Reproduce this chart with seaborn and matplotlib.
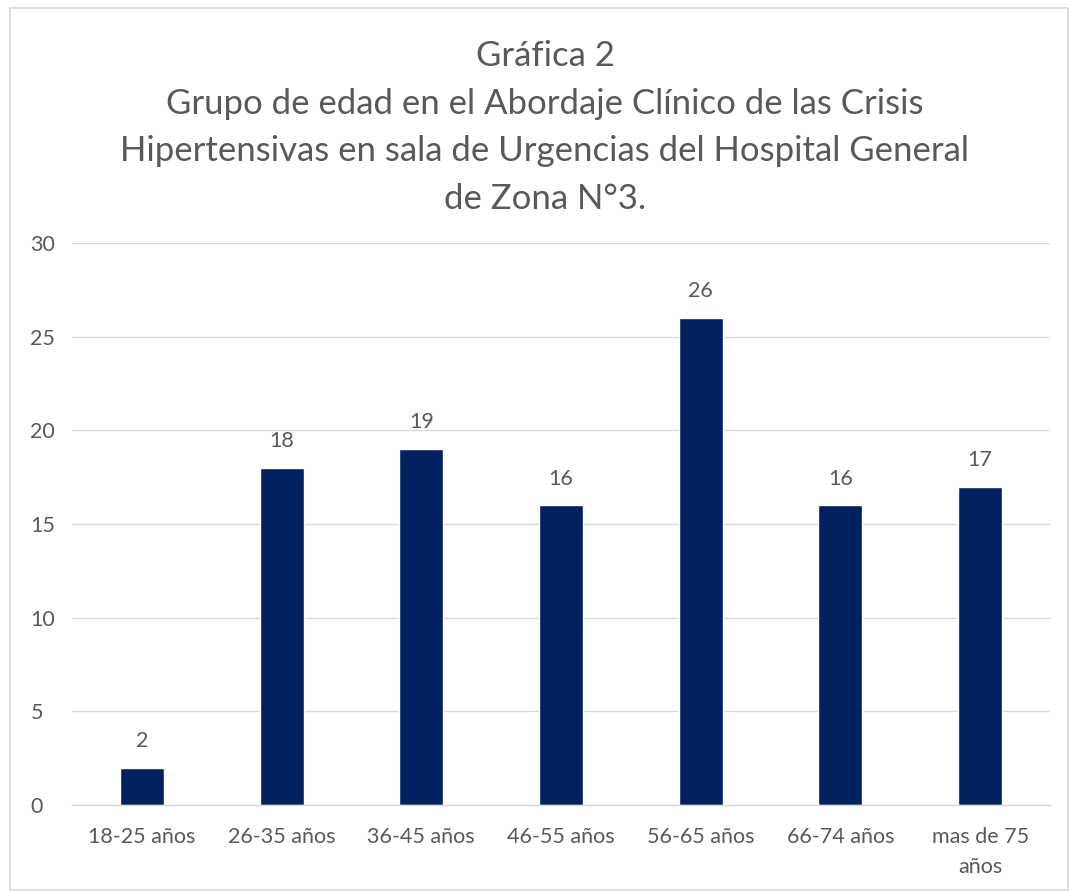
import matplotlib
matplotlib.use("Agg")
import matplotlib.pyplot as plt
import seaborn as sns
import pandas as pd
from matplotlib.patches import Rectangle

categories = ["18-25 años", "26-35 años", "36-45 años", "46-55 años", "56-65 años", "66-74 años", "mas de 75\naños"]
values = [2, 18, 19, 16, 26, 16, 17]
yticks = [0, 5, 10, 15, 20, 25, 30]
title = "Gráfica 2\nGrupo de edad en el Abordaje Clínico de las Crisis\nHipertensivas en sala de Urgencias del Hospital General\nde Zona N°3."

sns.set_theme(style="white")
plt.rcParams['font.family'] = ['Lato', 'DejaVu Sans']
text_color = "#595959"
bar_color = "#002060"

df = pd.DataFrame({"cat": categories, "val": values})

fig = plt.figure(figsize=(10.7, 8.92), dpi=100)
ax = fig.add_axes([72/1070, 87/892, 978/1070, 562/892])
sns.barplot(data=df, x="cat", y="val", color=bar_color, width=0.315, ax=ax, saturation=1)

ax.set_ylim(0, 30)
ax.set_xlim(-0.5, len(categories) - 0.5)
ax.set_yticks(yticks)
ax.yaxis.grid(True, color="#d9d9d9", linewidth=1)
ax.set_axisbelow(True)
for s in ["top", "right", "left"]:
    ax.spines[s].set_visible(False)
ax.spines["bottom"].set_color("#d9d9d9")
ax.spines["bottom"].set_linewidth(1)
ax.set_xlabel("")
ax.set_ylabel("")
ax.tick_params(axis="x", length=0, labelsize=15.5, colors=text_color, pad=16)
ax.tick_params(axis="y", length=0, labelsize=15.5, colors=text_color, pad=30)
for lbl in ax.get_yticklabels():
    lbl.set_horizontalalignment("left")
for lbl in ax.get_xticklabels():
    lbl.set_linespacing(1.6)

for cont in ax.containers:
    ax.bar_label(cont, labels=[str(v) for v in values], padding=12, fontsize=15.5, color=text_color)

fig.text(545/1070, 1 - 40/892, title, ha="center", va="top", fontsize=25, color=text_color, linespacing=1.6)

fig.patches.append(Rectangle((10/1070, 2/892), 1058/1070, 882/892, transform=fig.transFigure,
                             fill=False, edgecolor="#d9d9d9", linewidth=1.2))

fig.savefig("out.png", dpi=100, facecolor="white")
